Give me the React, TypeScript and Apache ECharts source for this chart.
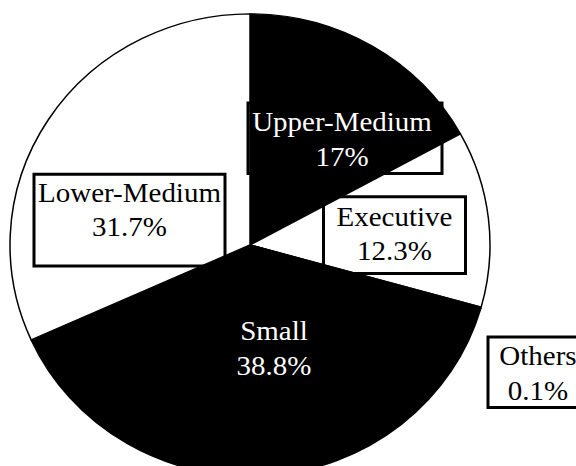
import React, { useEffect, useRef } from 'react';
import * as echarts from 'echarts';

// ---- data ----
const categories = ['Upper-Medium', 'Executive', 'Others', 'Small', 'Lower-Medium'];
const shares = [17, 12.3, 0.1, 38.8, 31.7];

// ---- styles ----
const sliceColors = ['#000000', '#ffffff', '#ffffff', '#000000', '#ffffff'];
const labelColors = ['#ffffff', '#000000', '#000000', '#ffffff', '#000000'];

// The reference pie is slightly flattened; the chart is drawn taller and squashed vertically.
const SQUASH = 0.963;
const W = 576;
const H = 466;

// label box layout (unsquashed px): centre x, top y, content width, padding [t, r, b, l]
const labelBoxes = [
  { cx: 345, top: 107, w: 188, pad: [2, 6, 0, 0] },
  { cx: 394.5, top: 204.3, w: 142, pad: [2.5, 0, 6, 0] },
  { cx: 538, top: 350, w: 100, pad: [2, 0, 0, 0] },
  { cx: 274, top: 324, w: 80, pad: [2, 0, 2, 0] },
  { cx: 129.5, top: 181, w: 191, pad: [1.5, 0, 22.5, 0] },
];

const FONT = '"Liberation Serif", "Times New Roman", Times, serif';

export default function App() {
  const ref = useRef<HTMLDivElement>(null);

  useEffect(() => {
    if (!ref.current) return;
    const chart = echarts.init(ref.current, undefined, { renderer: 'svg' });

    const data = categories.map((name, i) => ({
      name,
      value: shares[i],
      itemStyle: { color: sliceColors[i] },
      label: {
        color: labelColors[i],
        width: labelBoxes[i].w,
        padding: labelBoxes[i].pad,
      },
    }));

    chart.setOption({
      animation: false,
      backgroundColor: '#ffffff',
      series: [
        {
          type: 'pie',
          center: [250, 254.4],
          radius: 240,
          startAngle: 90,
          clockwise: true,
          avoidLabelOverlap: false,
          silent: true,
          itemStyle: { borderColor: '#000000', borderWidth: 1.5 },
          emphasis: { disabled: true },
          labelLine: { show: false },
          label: {
            show: true,
            position: 'inside',
            formatter: (p: any) => `${p.name}\n${p.value}%`,
            fontFamily: FONT,
            fontSize: 29,
            lineHeight: 35.6,
            align: 'center',
            backgroundColor: 'transparent',
            borderColor: '#000000',
            borderWidth: 1.5,
          },
          labelLayout: (params: any) => {
            const b = labelBoxes[params.dataIndex];
            return { x: b.cx, y: b.top, align: 'center', verticalAlign: 'top' };
          },
          data,
        },
      ],
    });

    return () => chart.dispose();
  }, []);

  return (
    <div style={{ position: 'fixed', left: 0, top: 0, width: W, height: H, overflow: 'hidden', background: '#fff' }}>
      <div
        ref={ref}
        style={{
          width: W,
          height: Math.ceil(H / SQUASH),
          transform: `scaleY(${SQUASH})`,
          transformOrigin: '0 0',
        }}
      />
    </div>
  );
}
